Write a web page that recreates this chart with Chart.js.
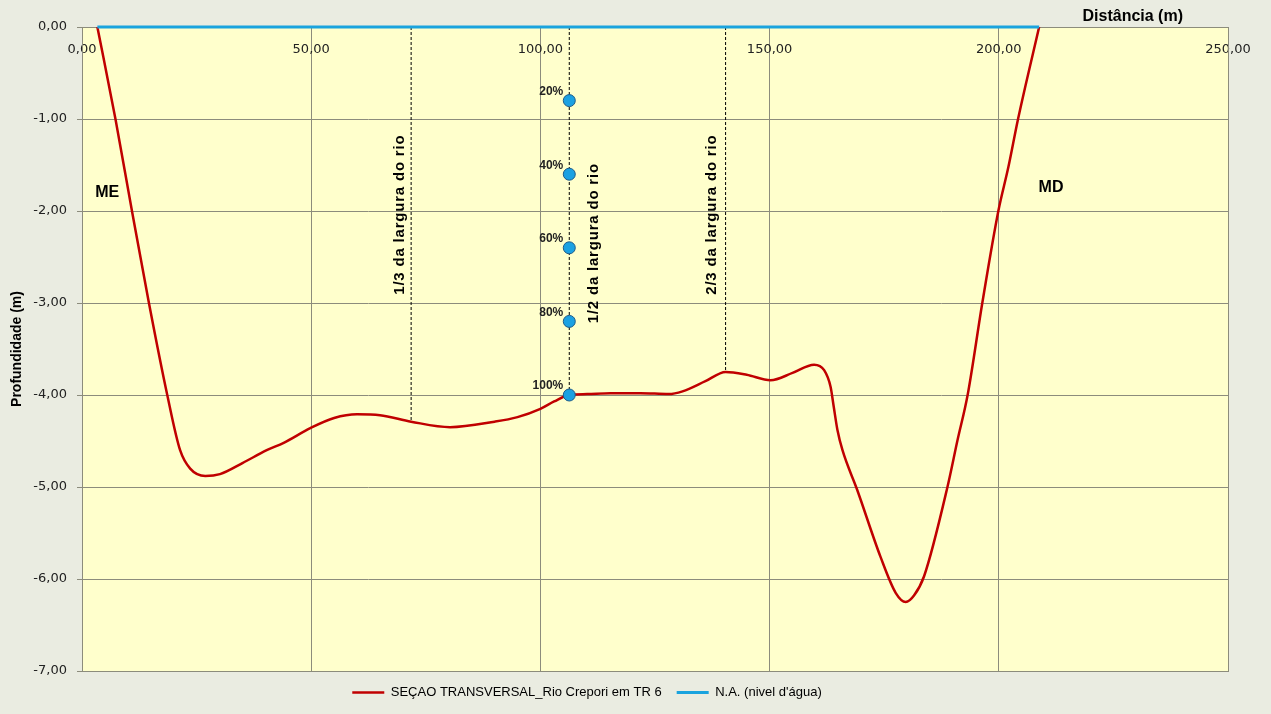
<!DOCTYPE html>
<html>
<head>
<meta charset="utf-8">
<script src="https://cdn.jsdelivr.net/npm/chart.js@4.4.1/dist/chart.umd.min.js"></script>
<style>
  html, body { margin: 0; padding: 0; background: #eaece1; }
  #wrap { width: 1271px; height: 714px; }
</style>
</head>
<body>
<div id="wrap"><canvas id="secao"></canvas></div>
<script>
// perfil do fundo: distância (m) x profundidade (m)
const distancias = [3.35, 7.3, 10.9, 14.6, 18.6, 21.4, 23.6, 26.9, 30.1, 35, 40.3, 44, 49.8, 55, 60, 65, 71.8, 80.3, 90, 95, 100, 103,
  106.3, 110.2, 115.3, 121.8, 128, 131, 136, 140.4, 145, 150.2, 155, 159.7, 161.9, 163.3, 164, 164.8, 165.9, 169.1, 174.2, 177.5,
  179.7, 181.5, 183.7, 188.8, 191, 193.2, 196.4, 199.9, 202.1, 204.2, 208.8];
const profundidades = [0, -1, -2, -3, -4, -4.6, -4.8, -4.88, -4.86, -4.74, -4.6, -4.52, -4.36, -4.25, -4.21, -4.22, -4.29, -4.35, -4.29, -4.24, -4.15, -4.07,
  -4.0, -3.99, -3.98, -3.98, -3.99, -3.96, -3.85, -3.75, -3.78, -3.84, -3.76, -3.67, -3.73, -3.91, -4.13, -4.38, -4.6, -5.03, -5.76, -6.15,
  -6.25, -6.18, -5.97, -5.0, -4.49, -4.0, -3.0, -2.0, -1.52, -1.0, 0];

// nível d'água
const naDistancias = [3.35, 208.8];
const naCotas = [0, 0];

// verticais de medição
const verticalNomes = ['1/3 da largura do rio', '1/2 da largura do rio', '2/3 da largura do rio'];
const verticalDist = [71.8, 106.3, 140.4];
const verticalFundo = [-4.29, -4.0, -3.75];

// pontos na vertical central
const pontosRotulos = ['20%', '40%', '60%', '80%', '100%'];
const pontosProf = [-0.8, -1.6, -2.4, -3.2, -4.0];

const margens = ['ME', 'MD'];

const fmt = v => Number(v).toFixed(2).replace('.', ',');

const perfil = distancias.map((d, i) => ({ x: d, y: profundidades[i] }));
const na = naDistancias.map((d, i) => ({ x: d, y: naCotas[i] }));
const pontos = pontosProf.map(p => ({ x: verticalDist[1], y: p }));

const verticalSets = verticalDist.map((d, i) => ({
  label: verticalNomes[i],
  data: [{ x: d, y: 0 }, { x: d, y: verticalFundo[i] }],
  borderColor: '#000',
  borderWidth: 1,
  borderDash: [3, 2],
  pointRadius: 0,
  order: 3
}));

// fundos, borda da área e textos
const decoracao = {
  id: 'decoracao',
  afterLayout(chart) {
    // legenda um pouco à esquerda, como no original
    chart.legend.left -= 54;
  },
  beforeDraw(chart) {
    const { ctx, chartArea: a } = chart;
    ctx.save();
    ctx.fillStyle = '#eaece1';
    ctx.fillRect(0, 0, chart.width, chart.height);
    ctx.fillStyle = '#ffffcc';
    ctx.fillRect(a.left, a.top, a.right - a.left, a.bottom - a.top);
    ctx.restore();
  },
  beforeDatasetsDraw(chart) {
    const { ctx, chartArea: a } = chart;
    ctx.save();
    ctx.strokeStyle = '#8c8c7c';
    ctx.lineWidth = 1;
    ctx.strokeRect(a.left + 0.5, a.top + 0.5, a.right - a.left, a.bottom - a.top);
    ctx.restore();
  },
  afterDraw(chart) {
    const { ctx, chartArea: a } = chart;
    const xs = chart.scales.x, ys = chart.scales.y;
    ctx.save();
    ctx.fillStyle = '#000';
    ctx.textBaseline = 'middle';

    // título do eixo x
    ctx.font = 'bold 16px "Liberation Sans", Arial, sans-serif';
    ctx.textAlign = 'right';
    ctx.fillText('Distância (m)', a.right - 45, a.top - 10);

    // margens
    ctx.font = 'bold 16px "Liberation Sans", Arial, sans-serif';
    ctx.textAlign = 'center';
    ctx.fillText(margens[0], xs.getPixelForValue(5.5), ys.getPixelForValue(-1.8));
    ctx.fillText(margens[1], xs.getPixelForValue(211.4), ys.getPixelForValue(-1.75));

    // textos das verticais
    const desloc = [-11, 25, -14];
    const centroY = [-2.04, -2.35, -2.04];
    ctx.font = 'bold 15px "Liberation Sans", Arial, sans-serif';
    ctx.letterSpacing = '0.8px';
    verticalDist.forEach((d, i) => {
      ctx.save();
      ctx.translate(xs.getPixelForValue(d) + desloc[i], ys.getPixelForValue(centroY[i]));
      ctx.rotate(-Math.PI / 2);
      ctx.fillText(verticalNomes[i], 0, 0);
      ctx.restore();
    });
    ctx.letterSpacing = '0px';

    // rótulos dos pontos
    ctx.font = 'bold 12px "Liberation Sans", Arial, sans-serif';
    ctx.fillStyle = '#222';
    ctx.textAlign = 'right';
    const meta = chart.getDatasetMeta(2);
    meta.data.forEach((p, i) => {
      ctx.fillText(pontosRotulos[i], p.x - 6, p.y - 9);
    });
    ctx.restore();
  }
};

new Chart(document.getElementById('secao'), {
  type: 'line',
  data: {
    datasets: [
      {
        label: 'SEÇAO TRANSVERSAL_Rio Crepori em TR 6',
        data: perfil,
        borderColor: '#c00000',
        backgroundColor: '#c00000',
        borderWidth: 2.5,
        pointRadius: 0,
        cubicInterpolationMode: 'monotone',
        order: 2
      },
      {
        label: "N.A. (nivel d'água)",
        data: na,
        borderColor: '#1aa3de',
        backgroundColor: '#1aa3de',
        borderWidth: 3,
        pointRadius: 0,
        clip: false,
        order: 1
      },
      {
        label: 'pontos',
        data: pontos,
        showLine: false,
        pointRadius: 6,
        pointBackgroundColor: '#1ba1e2',
        pointBorderColor: '#1d5b8a',
        pointBorderWidth: 1,
        order: 0
      },
      ...verticalSets
    ]
  },
  options: {
    responsive: true,
    maintainAspectRatio: false,
    animation: false,
    layout: { padding: { left: 0, right: 43, top: 0, bottom: 5 } },
    plugins: {
      legend: {
        position: 'bottom',
        labels: {
          filter: item => item.datasetIndex < 2,
          sort: (a, b) => a.datasetIndex - b.datasetIndex,
          usePointStyle: true,
          pointStyle: 'line',
          pointStyleWidth: 32,
          padding: 15,
          color: '#000',
          font: { family: '"Liberation Sans", Arial, sans-serif', size: 13 }
        }
      },
      tooltip: { enabled: false }
    },
    scales: {
      x: {
        type: 'linear',
        position: 'top',
        min: 0,
        max: 250,
        afterFit: s => { s.height = 27; },
        border: { display: false },
        grid: { color: '#8c8c7c', drawTicks: false },
        ticks: {
          stepSize: 50,
          mirror: true,
          padding: 15,
          color: '#222',
          font: { family: '"DejaVu Sans", Verdana, sans-serif', size: 13 },
          callback: v => fmt(v)
        }
      },
      y: {
        type: 'linear',
        min: -7,
        max: 0,
        afterFit: s => { s.width = 82; },
        border: { display: false },
        grid: { color: '#8c8c7c', tickLength: 5 },
        ticks: {
          stepSize: 1,
          padding: 10,
          color: '#222',
          font: { family: '"DejaVu Sans", Verdana, sans-serif', size: 13 },
          callback: v => fmt(v)
        },
        title: {
          display: true,
          text: 'Profundidade (m)',
          color: '#000',
          padding: { top: 9, bottom: 4 },
          font: { family: '"Liberation Sans", Arial, sans-serif', size: 14, weight: 'bold' }
        }
      }
    }
  },
  plugins: [decoracao]
});
</script>
</body>
</html>
